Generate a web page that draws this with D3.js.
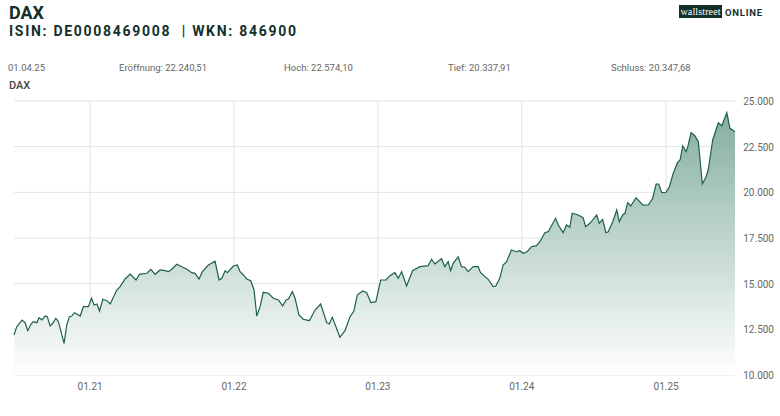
<!DOCTYPE html>
<html><head><meta charset="utf-8">
<script src="https://cdn.jsdelivr.net/npm/d3@7"></script>
<style>body{margin:0;background:#fff;font-family:Roboto,"Liberation Sans",sans-serif}</style>
</head><body><svg id="c" width="780" height="416"></svg>
<script>
const years=[2020.472,2020.491,2020.528,2020.549,2020.567,2020.590,2020.606,2020.630,2020.646,2020.665,2020.688,2020.703,2020.722,2020.741,2020.762,2020.780,2020.819,2020.838,2020.856,2020.873,2020.891,2020.931,2020.953,2020.988,2021.009,2021.028,2021.047,2021.065,2021.088,2021.116,2021.139,2021.185,2021.208,2021.243,2021.278,2021.319,2021.342,2021.394,2021.422,2021.451,2021.486,2021.521,2021.544,2021.567,2021.602,2021.637,2021.672,2021.706,2021.729,2021.757,2021.780,2021.822,2021.868,2021.896,2021.915,2021.938,2021.953,2021.995,2022.023,2022.042,2022.065,2022.088,2022.116,2022.139,2022.158,2022.181,2022.203,2022.238,2022.273,2022.308,2022.338,2022.361,2022.377,2022.405,2022.424,2022.451,2022.481,2022.523,2022.563,2022.602,2022.644,2022.662,2022.683,2022.736,2022.771,2022.806,2022.833,2022.856,2022.894,2022.922,2022.951,2022.986,2023.019,2023.056,2023.083,
2023.118,2023.141,2023.165,2023.199,2023.241,2023.292,2023.349,2023.373,2023.396,2023.442,2023.465,2023.488,2023.505,2023.523,2023.558,2023.581,2023.604,2023.627,2023.662,2023.697,2023.713,2023.766,2023.801,2023.819,2023.847,2023.870,2023.894,2023.928,2023.963,2023.986,2024.009,2024.037,2024.067,2024.102,2024.125,2024.160,2024.183,2024.234,2024.257,2024.287,2024.310,2024.333,2024.349,2024.391,2024.425,2024.442,2024.472,2024.519,2024.537,2024.560,2024.583,2024.599,2024.630,2024.658,2024.676,2024.699,2024.715,2024.734,2024.755,2024.792,2024.838,2024.877,2024.907,2024.931,2024.949,2024.970,2025.000,2025.023,2025.051,2025.079,2025.097,2025.116,2025.139,2025.151,2025.174,2025.201,2025.224,2025.252,2025.278,2025.294,2025.324,2025.363,2025.387,2025.422,2025.444,2025.479];
const values=[12190,12645,13010,12864,12426,12793,12919,12864,13138,13010,13230,13193,12684,12830,13105,12919,11736,12738,13193,13230,13411,13230,13740,13740,14200,13833,13888,13503,14145,14068,13888,14654,14835,15256,15530,15202,15513,15568,15787,15513,15749,15711,15656,15787,16061,15930,15787,15601,15568,15256,15656,16023,16225,15202,15295,15711,15601,15968,16023,15656,15475,15256,15163,14654,13230,13740,14528,14474,14200,14107,13779,14107,14145,14561,14200,13285,13050,12973,13559,13888,12864,12793,13160,12065,12426,13193,13503,14379,14599,14506,13959,14013,15202,15202,15437,
15601,15295,15656,14873,15711,15930,15985,16335,16077,16368,15930,16203,15711,16116,16477,15930,15897,15656,15930,15930,15601,15240,14835,14873,15295,16023,16203,16843,16750,16806,16663,16750,17024,17079,17298,17791,17846,18579,18158,17791,18213,18087,18853,18760,18612,18120,18306,18760,18306,18525,17791,17846,18394,19034,18394,18760,18853,19433,19252,19706,19306,19306,19674,20457,20457,19980,20002,20309,21075,21622,21770,22537,22225,22498,23265,23084,22772,20457,20856,21261,22865,23812,23648,24360,23506,23320];
const yTicks=[10000,12500,15000,17500,20000,22500,25000];
const xTickYears=[2021,2022,2023,2024,2025];
const xTickLabels=["01.21","01.22","01.23","01.24","01.25"];
const stats=[["01.04.25",8],["Eröffnung: 22.240,51",119],["Hoch: 22.574,10",284],["Tief: 20.337,91",448],["Schluss: 20.347,68",611]];

const yd=v=>{const y=Math.floor(v),s=new Date(y,0,1),e=new Date(y+1,0,1);return new Date(+s+(v-y)*(e-s));};
const data=years.map((t,i)=>({d:yd(t),v:values[i]}));
const svg=d3.select("#c");
const L=14,R=735,T=101,B=375;
const x=d3.scaleTime().domain([data[0].d,data[data.length-1].d]).range([L,R]);
const y=d3.scaleLinear().domain([10000,25000]).range([B,T]);
const fmt=v=>d3.format(",")(v).replace(/,/g,".");

svg.append("text").attr("x",9).attr("y",19).attr("font-size",18).attr("font-weight",700).attr("fill","#13302c").text("DAX");
svg.append("text").attr("x",9).attr("y",36).attr("font-size",14).attr("font-weight",700).attr("fill","#13302c").attr("textLength",287).attr("lengthAdjust","spacing").text("ISIN: DE0008469008 \u00a0| WKN: 846900");
svg.append("rect").attr("x",679).attr("y",5).attr("width",43).attr("height",13).attr("fill","#13302c");
svg.append("text").attr("x",700.5).attr("y",15).attr("text-anchor","middle").attr("font-size",10).attr("fill","#fff").attr("font-family","Liberation Serif,serif").attr("textLength",40).text("wallstreet");
svg.append("text").attr("x",725).attr("y",15.5).attr("font-size",9.5).attr("font-weight",700).attr("fill","#13302c").attr("letter-spacing",0.8).text("ONLINE");
stats.forEach(s=>svg.append("text").attr("x",s[1]).attr("y",71).attr("font-size",9.5).attr("fill","#666").text(s[0]));
svg.append("text").attr("x",9).attr("y",89).attr("font-size",11).attr("font-weight",500).attr("fill","#444").text("DAX");

svg.append("g").selectAll("line").data(yTicks).join("line").attr("x1",L).attr("x2",R).attr("y1",d=>y(d)).attr("y2",d=>y(d)).attr("stroke","#e3e3e3");
svg.append("g").selectAll("line").data(xTickYears).join("line").attr("x1",d=>x(new Date(d,0,1))).attr("x2",d=>x(new Date(d,0,1))).attr("y1",T).attr("y2",B).attr("stroke","#e3e3e3");

const grad=svg.append("defs").append("linearGradient").attr("id","g").attr("gradientUnits","userSpaceOnUse").attr("x1",0).attr("x2",0).attr("y1",T).attr("y2",B);
grad.append("stop").attr("offset",0).attr("stop-color","#7fab9a");
grad.append("stop").attr("offset",1).attr("stop-color","#ffffff");
svg.append("path").datum(data).attr("fill","url(#g)").attr("d",d3.area().x(d=>x(d.d)).y0(B).y1(d=>y(d.v)));
svg.append("path").datum(data).attr("fill","none").attr("stroke","#1d6049").attr("stroke-width",1.2).attr("d",d3.line().x(d=>x(d.d)).y(d=>y(d.v)));

svg.append("g").selectAll("text").data(yTicks).join("text").attr("x",774).attr("y",d=>y(d)+4).attr("text-anchor","end").attr("font-size",10).attr("fill","#666").text(fmt);
svg.append("g").selectAll("text").data(xTickYears).join("text").attr("x",d=>x(new Date(d,0,1))).attr("y",390).attr("text-anchor","middle").attr("font-size",10).attr("fill","#666").text((d,i)=>xTickLabels[i]);
</script></body></html>
